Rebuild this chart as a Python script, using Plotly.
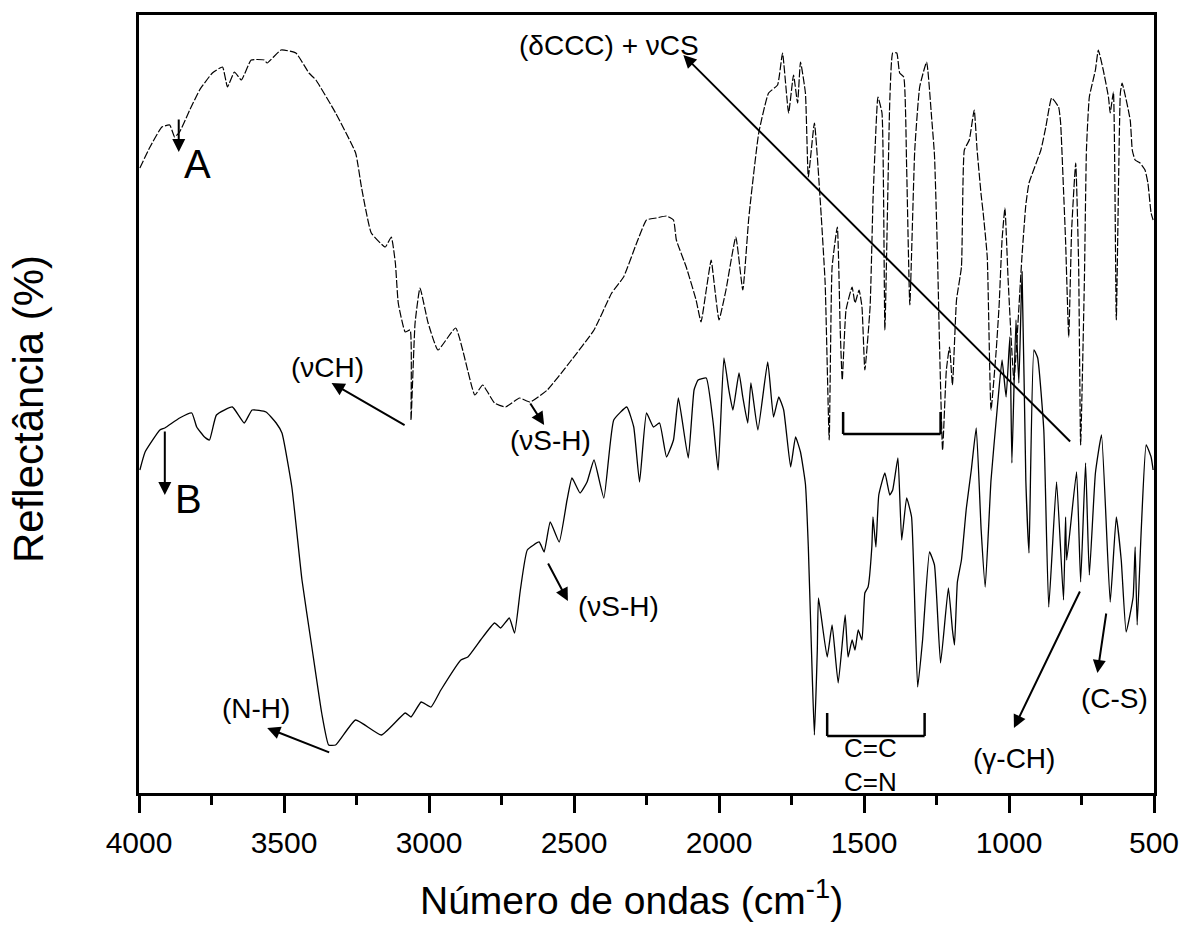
import plotly.graph_objects as go

# ---------------- data ----------------
# Curve A (upper, dashed)
wn_A = [3997, 3962, 3921, 3894, 3877, 3860, 3825, 3791, 3747, 3712, 3695, 3671, 3647, 3613,
        3568, 3558, 3510, 3459, 3414, 3390, 3322, 3253, 3233, 3199, 3151, 3130, 3116, 3106,
        3082, 3065, 3062, 3048, 3031, 3003, 2969, 2908, 2842, 2815, 2774, 2736, 2688, 2651,
        2592, 2514, 2431, 2370, 2329, 2284, 2250, 2216, 2181, 2157, 2147, 2113, 2079, 2062,
        2044, 2027, 2014, 2000, 1976, 1942, 1918, 1897, 1863, 1829, 1798, 1781, 1760, 1743,
        1729, 1719, 1702, 1692, 1671, 1651, 1634, 1620, 1610, 1592, 1582, 1575, 1562, 1541,
        1531, 1517, 1507, 1497, 1479, 1469, 1462, 1452, 1438, 1428, 1411, 1401, 1387, 1377,
        1363, 1353, 1342, 1325, 1308, 1284, 1267, 1257, 1247, 1240, 1229, 1216, 1205, 1195,
        1181, 1164, 1154, 1137, 1120, 1110, 1096, 1089, 1075, 1062, 1044, 1034, 1024, 1014,
        1003, 983, 955, 942, 931, 890, 873, 853, 829, 822, 812, 805, 794, 784, 770, 760,
        753, 740, 733, 723, 702, 692, 675, 657, 651, 640, 630, 616, 610, 582, 575, 565,
        548, 531, 521, 510, 503]
refl_A = [627, 648, 668, 670, 658, 663, 685, 705, 722, 728, 708, 723, 715, 735,
          735, 732, 745, 742, 722, 715, 682, 642, 608, 562, 548, 558, 532, 492,
          463, 465, 375, 472, 507, 472, 445, 467, 400, 410, 392, 388, 397, 393,
          405, 433, 465, 502, 518, 552, 575, 577, 579, 575, 555, 528, 495, 473,
          505, 535, 505, 475, 505, 558, 505, 578, 662, 702, 710, 742, 682, 720,
          692, 733, 702, 618, 672, 595, 512, 355, 528, 568, 465, 415, 485, 508,
          492, 505, 488, 425, 488, 595, 645, 698, 682, 465, 695, 742, 742, 722,
          718, 628, 490, 645, 708, 733, 678, 640, 545, 455, 345, 425, 448, 410,
          495, 528, 645, 655, 685, 645, 600, 582, 538, 385, 445, 490, 555, 587,
          515, 415, 540, 590, 612, 645, 668, 697, 688, 672, 605, 555, 458, 565, 632, 532,
          350, 515, 645, 698, 725, 745, 725, 698, 682, 703, 475, 702, 712, 675, 645, 635,
          632, 625, 612, 582, 575]

# Curve B (lower, solid)
wn_B = [3997, 3979, 3928, 3911, 3860, 3818, 3801, 3774, 3757, 3733, 3678, 3637, 3610, 3562,
        3527, 3507, 3473, 3438, 3404, 3370, 3346, 3322, 3253, 3164, 3082, 3062, 3027, 2993,
        2959, 2890, 2866, 2822, 2774, 2753, 2723, 2705, 2685, 2661, 2620, 2603, 2582, 2551,
        2524, 2507, 2479, 2455, 2431, 2397, 2363, 2318, 2294, 2274, 2250, 2226, 2205, 2181,
        2157, 2140, 2106, 2086, 2072, 2044, 2020, 2003, 1983, 1966, 1952, 1931, 1918, 1901,
        1890, 1866, 1832, 1812, 1794, 1777, 1753, 1736, 1719, 1702, 1692, 1678, 1671, 1661,
        1657, 1627, 1610, 1589, 1565, 1555, 1541, 1531, 1520, 1507, 1497, 1486, 1473, 1469,
        1459, 1449, 1428, 1411, 1401, 1383, 1370, 1353, 1336, 1315, 1298, 1274, 1257, 1236,
        1209, 1195, 1188, 1178, 1164, 1147, 1130, 1113, 1096, 1082, 1062, 1041, 1024, 1010,
        997, 990, 976, 966, 955, 942, 931, 914, 901, 880, 863, 836, 812, 805, 801, 767,
        753, 736, 723, 702, 681, 651, 630, 613, 596, 572, 565, 558, 544, 527, 510, 503]
refl_B = [325, 343, 365, 367, 377, 382, 368, 358, 355, 380, 388, 372, 385, 383,
          372, 362, 308, 215, 148, 82, 50, 50, 75, 60, 82, 78, 93, 88,
          105, 135, 138, 155, 172, 167, 177, 162, 205, 245, 253, 243, 273, 253,
          295, 317, 302, 313, 335, 297, 375, 388, 368, 313, 382, 368, 372, 338,
          355, 397, 337, 405, 415, 417, 372, 325, 437, 405, 385, 422, 398, 372,
          412, 365, 433, 378, 398, 385, 328, 358, 343, 311, 248, 115, 60, 145,
          197, 138, 170, 112, 180, 138, 155, 145, 165, 155, 202, 208, 248, 278,
          248, 300, 322, 300, 305, 337, 255, 297, 278, 108, 155, 243, 230, 132,
          207, 165, 150, 213, 235, 287, 325, 367, 265, 208, 315, 385, 435, 398,
          458, 332, 475, 412, 523, 315, 242, 445, 437, 365, 188, 313, 195, 278, 235, 323,
          213, 332, 220, 322, 360, 193, 278, 235, 163, 198, 248, 170, 265, 350, 338, 325]

x_ticks = [4000, 3500, 3000, 2500, 2000, 1500, 1000, 500]
x_tick_text = ["4000", "3500", "3000", "2500", "2000", "1500", "1000", "500"]

x_title = "Número de ondas (cm<sup>-1</sup>)"
y_title = "Reflectância (%)"

# ---------------- figure ----------------
FONT = "Liberation Sans, Arial, sans-serif"
fig = go.Figure()

fig.add_trace(go.Scatter(x=wn_A, y=refl_A, mode="lines", name="A",
                         line=dict(color="black", width=1.2, dash="8px,2px",
                                   shape="spline", smoothing=0.4)))
fig.add_trace(go.Scatter(x=wn_B, y=refl_B, mode="lines", name="B",
                         line=dict(color="black", width=1.3, shape="spline", smoothing=0.4)))

# text labels (x, y in data units)
labels = [
    ("(δCCC) + νCS", 2380, 750, 28),
    ("A", 3798, 631, 40),
    ("B", 3829, 296, 40),
    ("(νCH)", 3349, 428, 28),
    ("(N-H)", 3596, 87, 28),
    ("(νS-H)", 2582, 355, 28),
    ("(νS-H)", 2346, 189, 28),
    ("(γ-CH)", 983, 37, 28),
    ("(C-S)", 637, 97, 28),
    ("C=C", 1479, 47, 26),
    ("C=N", 1479, 13, 26),
]
for txt, lx, ly, fs in labels:
    fig.add_annotation(x=lx, y=ly, xref="x", yref="y", text=txt, showarrow=False,
                       font=dict(family=FONT, size=fs, color="black"),
                       xanchor="center", yanchor="middle")

# arrows: (tail_x, tail_y, head_x, head_y)
arrows = [
    (784, 352, 2123, 740),
    (3863, 677, 3863, 643),
    (3911, 365, 3911, 300),
    (3079, 369, 3336, 412),
    (3339, 42, 3558, 67),
    (2654, 393, 2603, 370),
    (2592, 233, 2521, 194),
    (753, 205, 983, 67),
    (664, 183, 695, 122),
]
for tx, ty, hx, hy in arrows:
    fig.add_annotation(x=hx, y=hy, ax=tx, ay=ty, xref="x", yref="y", axref="x", ayref="y",
                       text="", showarrow=True, arrowhead=2, arrowsize=1.3, arrowwidth=2,
                       arrowcolor="black", standoff=0, startstandoff=0)

# brackets
bracket_style = dict(type="line", xref="x", yref="y", line=dict(color="black", width=2.5))
for x0, x1, yb, yt in [(1572, 1236, 361, 383), (1627, 1291, 59, 82)]:
    fig.add_shape(x0=x0, x1=x1, y0=yb, y1=yb, **bracket_style)
    fig.add_shape(x0=x0, x1=x0, y0=yb, y1=yt, **bracket_style)
    fig.add_shape(x0=x1, x1=x1, y0=yb, y1=yt, **bracket_style)

# axis titles
fig.add_annotation(x=0.5, y=0, xref="paper", yref="paper", text=x_title, showarrow=False,
                   xshift=-15, yshift=-104, xanchor="center", yanchor="middle",
                   font=dict(family=FONT, size=39, color="black"))
fig.add_annotation(x=0, y=0.5, xref="paper", yref="paper", text=y_title, showarrow=False,
                   xshift=-111, yshift=-5, textangle=-90, xanchor="center", yanchor="middle",
                   font=dict(family=FONT, size=42, color="black"))

fig.update_layout(
    width=1191, height=925,
    margin=dict(l=139, r=30, t=15, b=132),
    paper_bgcolor="white", plot_bgcolor="white",
    showlegend=False,
    font=dict(family=FONT, color="black"),
    xaxis=dict(range=[4000, 500], tickmode="array", tickvals=x_ticks, ticktext=x_tick_text,
               ticks="outside", ticklen=17, tickwidth=2.5, tickcolor="black",
               tickfont=dict(family=FONT, size=30, color="black"),
               showline=True, linewidth=2.5, linecolor="black", mirror=True,
               showgrid=False, zeroline=False, ticklabelstandoff=4,
               minor=dict(dtick=250, tick0=500, ticks="outside", ticklen=9, tickwidth=2.5,
                          tickcolor="black", showgrid=False)),
    yaxis=dict(range=[2, 780], showticklabels=False, ticks="",
               showline=True, linewidth=2.5, linecolor="black", mirror=True,
               showgrid=False, zeroline=False),
)

fig.write_html("out.html")
